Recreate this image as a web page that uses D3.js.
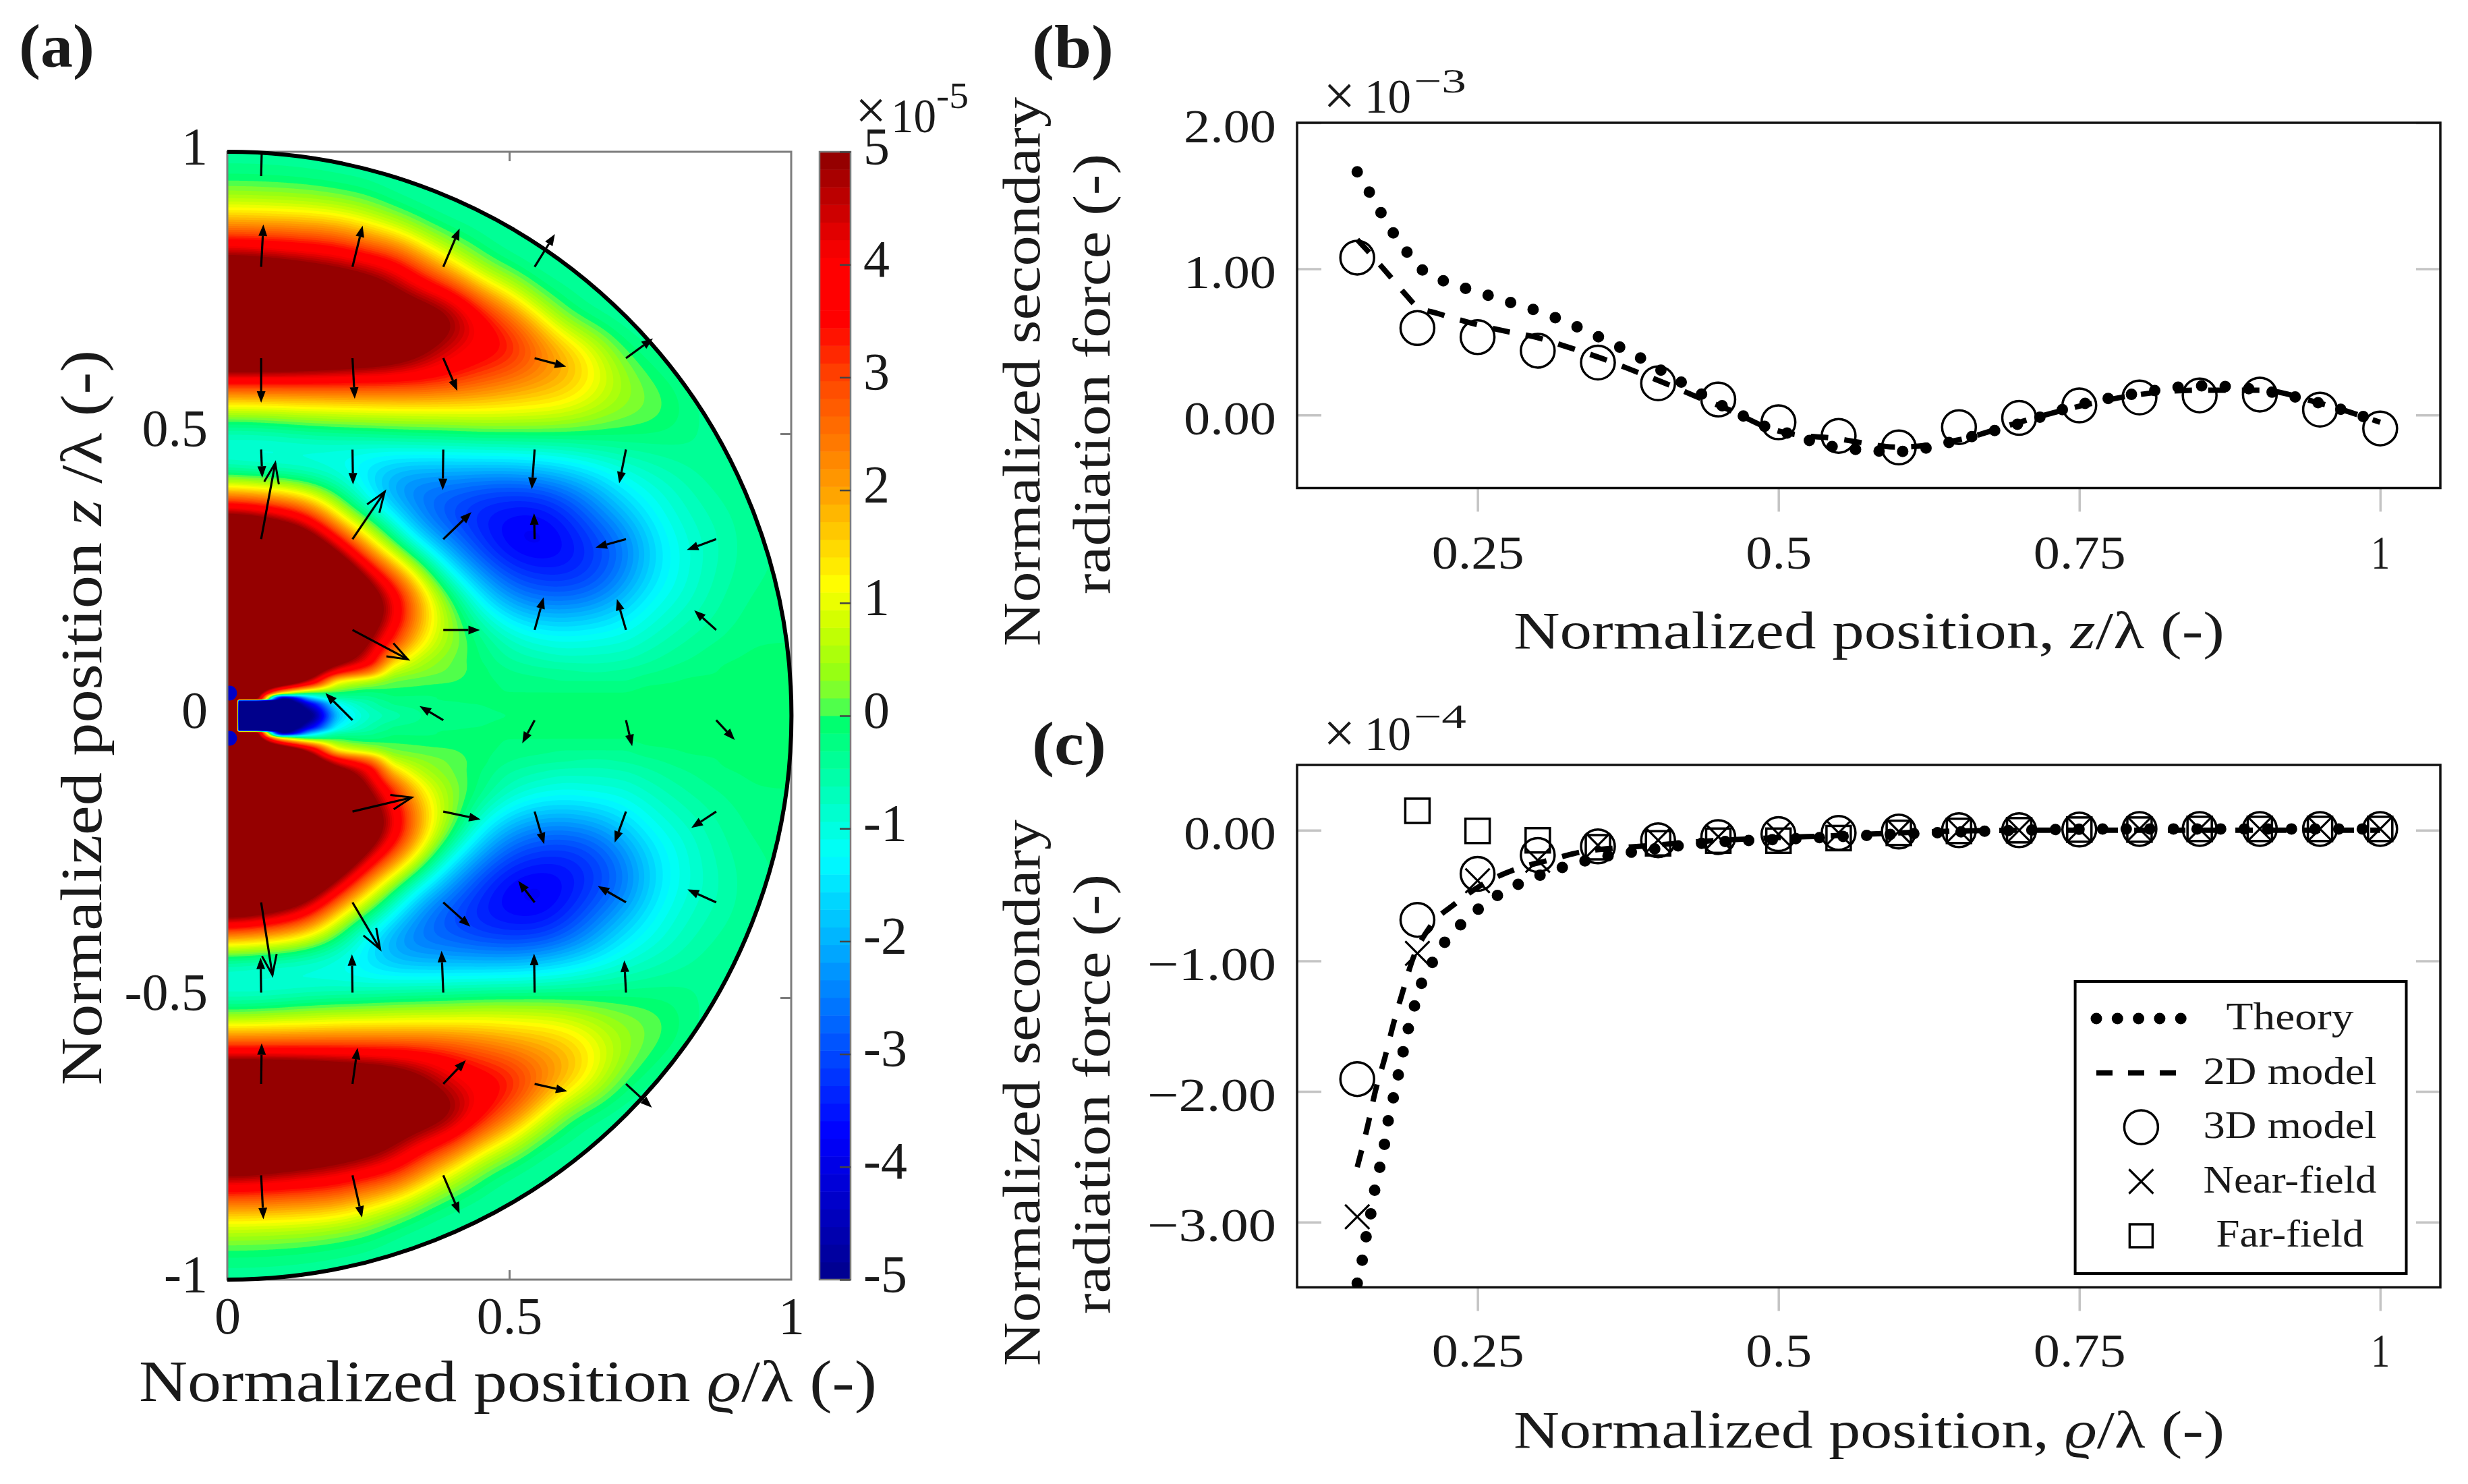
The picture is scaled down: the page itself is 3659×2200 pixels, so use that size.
<!DOCTYPE html>
<html><head><meta charset="utf-8">
<script src="https://cdn.jsdelivr.net/npm/d3@7"></script>
<style>
html,body{margin:0;padding:0;background:#fff}
svg{display:block}
text{font-family:"Liberation Serif",serif;fill:#1a1a1a}
</style></head><body>
<svg id="chart" width="3659" height="2200" xmlns="http://www.w3.org/2000/svg"></svg>
<script>
// ---------- panel (a): field, in units of 1e-5 (upper half; the field is even in z)
const rhoCols=[0,.016,.02,.05,.1,.15,.2,.25,.3,.35,.4,.45,.5,.55,.6,.65,.7,.75,.8,.85,.9,.95,1];
const zRows=[1,.95,.9,.85,.8,.75,.7,.65,.6,.55,.5,.45,.4,.35,.3,.25,.2,.15,.1,.08,.06,.04,.03,.026,.02,0];
const fieldRows=[
[-.5,-.5,-.5,-.5,-.5,-.5,-.5,-.5,-.5,-.5,-.5,-.5,-.5,-.5,-.5,-.5,-.5,-.5,-.5,-.5,-.5,-.5,-.5],
[-.15,-.15,-.15,-.15,-.2,-.25,-.35,-.4,-.5,-.5,-.5,-.5,-.5,-.5,-.5,-.5,-.5,-.5,-.5,-.5,-.5,-.5,-.5],
[1,1,1,.95,.9,.8,.6,.3,-.2,-.4,-.5,-.5,-.5,-.5,-.5,-.5,-.5,-.5,-.5,-.5,-.5,-.5,-.5],
[3.1,3.1,3.1,3.1,3,2.9,2.7,2,1.5,.4,-.1,-.35,-.5,-.5,-.5,-.5,-.5,-.5,-.5,-.5,-.5,-.5,-.5],
[5.8,5.8,5.8,5.6,5.3,5,4.7,4.3,3.9,2.6,1.3,.2,-.25,-.45,-.5,-.5,-.5,-.5,-.5,-.5,-.5,-.5,-.5],
[8,8,8,8,7.5,7,6.5,6,5,4.2,3.7,2,1.15,-.05,-.3,-.45,-.5,-.5,-.5,-.5,-.5,-.5,-.5],
[9,9,9,9,8.5,8,7.5,7,6.5,6,5.3,4,2.9,1.6,.1,-.3,-.45,-.5,-.5,-.5,-.5,-.5,-.5],
[8,8,8,8,7.8,7.5,7,6.6,6,5.1,4.2,3.8,3.6,2.7,1.9,1,-.05,-.35,-.5,-.5,-.5,-.5,-.5],
[3.9,3.9,3.9,3.9,3.9,3.9,3.9,3.9,3.9,3.8,3.5,3,2.6,2.2,1.9,1.25,.5,0,-.3,-.45,-.5,-.5,-.5],
[1.15,1.15,1.15,1.15,1.2,1.25,1.3,1.3,1.3,1.3,1.3,1.4,1.35,1.3,1.1,.7,.35,.2,-.1,-.4,-.5,-.5,-.5],
[-.9,-.9,-.9,-.85,-.7,-.55,-.45,-.35,-.25,-.2,-.15,-.1,-.1,-.1,-.1,-.1,-.1,-.15,-.2,-.35,-.5,-.5,-.5],
[-1.1,-1.15,-1.2,-1.25,-1.3,-1.3,-1.35,-1.5,-1.6,-1.6,-1.6,-1.55,-1.5,-1.4,-1.25,-1,-.8,-.6,-.45,-.35,-.3,-.3,-.3],
[1.3,1.25,1.2,1.1,.9,.3,-.4,-1.5,-2.5,-2.7,-2.8,-3,-3.1,-3,-2.6,-2.1,-1.4,-1.05,-.75,-.5,-.35,-.3,-.3],
[6,6,5.9,5.6,4.8,3.7,.9,0,-1.25,-2.6,-3.1,-3.5,-3.7,-3.8,-3.4,-2.7,-2.1,-1.35,-.9,-.65,-.45,-.3,-.3],
[8,8,8,8,7.5,6.5,4.5,1.6,0,-1.25,-2.3,-3.2,-3.8,-3.9,-3.7,-3.2,-2.7,-1.7,-1.1,-.75,-.5,-.3,-.3],
[9,9,9,9,9,8,7,4.7,2.4,.4,-1.25,-2.2,-3,-3.3,-3.4,-3.1,-2.5,-1.6,-1.1,-.7,-.45,-.3,-.3],
[9,9,9,9,9,9,8,6.3,4.4,1.6,.2,-1.25,-2.1,-2.5,-2.5,-2.3,-1.8,-1.2,-.9,-.6,-.35,-.25,-.25],
[9,9,9,9,9,9,7.5,5.5,3.7,1.4,.35,-.3,-.9,-1.25,-1.35,-1.25,-1.15,-.85,-.6,-.4,-.3,-.2,-.2],
[8.5,8.5,8.5,8.5,8.5,7,5.7,4.3,1.5,.55,.15,-.15,-.45,-.6,-.7,-.7,-.65,-.5,-.35,-.25,-.15,-.1,-.1],
[8,8,8,8,8,6,3.9,2.7,.7,.3,.1,-.1,-.3,-.4,-.45,-.5,-.45,-.35,-.25,-.2,-.1,-.1,-.1],
[8,8,8,7,6,4,1.2,.6,.15,.05,0,-.1,-.2,-.25,-.3,-.3,-.3,-.2,-.15,-.1,-.1,-.1,-.1],
[8,8,8,6,1,-.1,-.1,-.2,-.1,-.1,-.1,-.1,-.15,-.15,-.15,-.15,-.15,-.1,-.1,-.1,-.1,-.1,-.1],
[8,8,6,5,-5,-2,-.6,-.4,-.2,-.2,-.1,-.1,-.1,-.1,-.1,-.1,-.1,-.1,-.1,-.1,-.1,-.1,-.1],
[8,8,-5.5,-5.5,-5.5,-2.8,-.9,-.5,-.25,-.2,-.15,-.1,-.1,-.1,-.1,-.1,-.1,-.1,-.1,-.1,-.1,-.1,-.1],
[8,8,-6,-6,-6,-3.8,-1.2,-.6,-.3,-.25,-.2,-.15,-.1,-.1,-.1,-.1,-.1,-.1,-.1,-.1,-.1,-.1,-.1],
[8,8,-6.5,-7,-6.5,-5,-1.7,-.8,-.5,-.3,-.25,-.2,-.15,-.1,-.05,-.05,-.05,-.05,-.05,-.05,-.05,-.05,-.05]
];
const colorStops=[-5,-3.7,-1.25,0,.1,.4,.8,1.15,2,3,3.5,4.05,5];
const colorValues=["#00008b","#0000ff","#00ffff","#00ff66","#66ff44","#99ff11","#ccff00","#ffff00","#ffa000","#ff4400","#ff0000","#ff0000","#8b0000"];
const colorbarTicks=[5,4,3,2,1,0,-1,-2,-3,-4,-5];
const spotRho=[.004,.004], spotZ=[.04,-.04];
// force arrows: tail position and vector
const arrowRho=[.06, .06,.222,.383,.545, .06,.222,.383,.545,.707, .06,.222,.383,.545,.707, .06,.222,.383,.545,.707,.867, .222,.383,.545,.707,.867, .222,.383,.545,.707,.867, .222,.383,.545,.707,.867, .06,.222,.383,.545,.707,.867, .06,.222,.383,.545,.707, .06,.222,.383,.545,.707, .06,.222,.383];
const arrowZ=[.957, .796,.796,.796,.796, .634,.634,.634,.634,.634, .472,.472,.472,.472,.472, .313,.313,.313,.313,.313,.313, .152,.152,.152,.152,.152, -.008,-.008,-.008,-.008,-.008, -.17,-.17,-.17,-.17,-.17, -.331,-.331,-.331,-.331,-.331,-.331, -.491,-.491,-.491,-.491,-.491, -.653,-.653,-.653,-.653,-.653, -.815,-.815,-.815];
const arrowDRho=[.001, .004,.018,.029,.036, 0,.004,.025,.056,.048, .002,.001,-.001,-.005,-.012, .025,.057,.05,-.001,-.054,-.052, .098,.065,.016,-.016,-.039, -.048,-.042,-.022,.011,.033, .105,.066,.017,-.02,-.044, .02,.049,.048,-.029,-.05,-.051, -.001,-.001,-.003,-.001,-.003, .001,.009,.04,.058,.046, .004,.017,.029];
const arrowDZ=[.041, .075,.073,.068,.058, -.079,-.072,-.058,-.015,.035, -.05,-.062,-.072,-.07,-.06, .135,.084,.048,.046,-.015,-.019, -.052,0,.058,.055,.035, .048,.025,-.041,-.046,-.035, .025,-.014,-.058,-.055,-.029, -.129,-.083,-.043,.038,.029,.023, .062,.068,.074,.069,.057, .072,.064,.042,-.013,-.042, -.078,-.075,-.068];
const panelATicks=[-1,-.5,0,.5,1], panelAXTicks=[0,.5,1];
// ---------- panel (b)
const theoryBx=[.15,.16,.169,.179,.19,.202,.219,.237,.255,.273,.291,.309,.327,.344,.361,.379,.395,.411,.428,.444,.462,.479,.495,.514,.533,.55,.6,.62,.65,.7,.75,.8,.85,.9,.95,1];
const theoryB=[1.664,1.526,1.395,1.258,1.13,1.008,.928,.875,.829,.781,.736,.684,.624,.561,.492,.42,.342,.266,.181,.106,.025,-.037,-.102,-.136,-.197,-.222,-.25,-.23,-.17,-.06,.07,.15,.2,.17,.08,-.05];
const model2dBx=[.15,.153,.173,.191,.2,.216,.243,.271,.299,.326,.354,.379,.407,.432,.46,.492,.515,.544,.6,.65,.7,.75,.8,.85,.9,.95,1];
const model2dB=[1.2,1.174,.99,.817,.74,.697,.633,.577,.531,.462,.385,.305,.213,.125,.032,-.09,-.135,-.157,-.22,-.17,-.05,.06,.14,.17,.17,.08,-.05];
const positions=[.15,.2,.25,.3,.35,.4,.45,.5,.55,.6,.65,.7,.75,.8,.85,.9,.95,1];
const model3dB=[1.077,.595,.533,.44,.359,.217,.106,-.05,-.143,-.222,-.083,-.02,.065,.12,.134,.14,.037,-.092];
// ---------- panel (c)
const theoryCx=[.15,.154,.157,.161,.164,.168,.172,.175,.179,.183,.187,.191,.196,.201,.209,.218,.23,.244,.259,.275,.292,.309,.328,.347,.365,.384,.45,.5,.6,.7,.8,1];
const theoryC=[-3.468,-3.3,-3.13,-2.95,-2.78,-2.61,-2.44,-2.26,-2.09,-1.92,-1.745,-1.572,-1.4,-1.23,-1.074,-.919,-.78,-.656,-.545,-.454,-.38,-.32,-.263,-.217,-.186,-.16,-.09,-.07,-.03,0,.01,.01];
const model2dCx=[.15,.159,.165,.173,.18,.188,.196,.211,.231,.255,.281,.309,.337,.367,.39,.423,.478,.55,.6,.7,1];
const model2dC=[-2.58,-2.25,-2,-1.74,-1.485,-1.23,-.99,-.733,-.565,-.41,-.3,-.23,-.165,-.135,-.12,-.094,-.065,-.04,-.02,0,0];
const model3dC=[-1.905,-.686,-.334,-.19,-.124,-.077,-.052,-.03,-.02,-.01,0,0,.005,.01,.01,.01,.01,.01];
const nearC=[-2.96,-.943,-.386,-.23,-.115,-.077,-.05,-.03,-.02,-.01,0,0,.005,.01,.01,.01,.01,.01];
const farC=[null,.149,-.005,-.077,-.13,-.1,-.08,-.08,-.06,-.02,-.005,0,.005,.005,.01,.01,.01,.01];
const legendNames=["Theory","2D model","3D model","Near-field","Far-field"];

// ---------- helpers
const svg=d3.select("#chart");
const defs=svg.append("defs");
const FONT='"Liberation Serif",serif';
function pchip(xs,ys){
  const n=xs.length,h=[],d=[],m=new Array(n);
  for(let i=0;i<n-1;i++){h[i]=xs[i+1]-xs[i];d[i]=(ys[i+1]-ys[i])/h[i];}
  m[0]=d[0];m[n-1]=d[n-2];
  for(let i=1;i<n-1;i++){
    if(d[i-1]*d[i]<=0)m[i]=0;
    else{const a=2*h[i]+h[i-1],b=h[i]+2*h[i-1];m[i]=(a+b)/(a/d[i-1]+b/d[i]);}
  }
  return x=>{
    let i=d3.bisectRight(xs,x)-1;i=Math.max(0,Math.min(n-2,i));
    const t=(x-xs[i])/h[i],t2=t*t,t3=t2*t;
    return (2*t3-3*t2+1)*ys[i]+(t3-2*t2+t)*h[i]*m[i]+(-2*t3+3*t2)*ys[i+1]+(t3-t2)*h[i]*m[i+1];
  };
}
function txt(x,y,s,size,opt={}){
  const t=svg.append("text").attr("x",x).attr("y",y).attr("font-size",size);
  if(opt.anchor)t.attr("text-anchor",opt.anchor);
  if(opt.weight)t.attr("font-weight",opt.weight);
  if(opt.rotate)t.attr("transform",`rotate(-90 ${x} ${y})`);
  if(opt.len)t.attr("textLength",opt.len).attr("lengthAdjust","spacingAndGlyphs");
  (Array.isArray(s)?s:[[s,false]]).forEach(([c,it])=>{t.append("tspan").attr("font-style",it?"italic":"normal").text(c);});
  return t;
}

// ---------- panel (a)
const xA=d3.scaleLinear([0,1],[337,1173]);
const yA=d3.scaleLinear([-1,1],[1897,225]);
const color=d3.scaleLinear(colorStops,colorValues).clamp(true);
const NB=64;
const levels=d3.range(NB).map(i=>-5+i*10/NB);

const zAsc=zRows.slice().reverse();
const zKnots=zRows.map(z=>-z).concat(zAsc.slice(1));
const rowsKnots=fieldRows.concat(fieldRows.slice(0,-1).reverse());
const nx=420,ny=840;
const fineZ=d3.range(ny).map(j=>1-2*(j+.5)/ny);
const fineR=d3.range(nx).map(i=>(i+.5)/nx);
const colFine=rhoCols.map((_,c)=>{const f=pchip(zKnots,rowsKnots.map(r=>r[c]));return fineZ.map(f);});
const raw=new Float64Array(nx*ny);
for(let j=0;j<ny;j++){
  const f=pchip(rhoCols,colFine.map(c=>c[j]));
  for(let i=0;i<nx;i++)raw[j*nx+i]=f(fineR[i]);
}
// soften the grid of readings away from the narrow wedge on the axis
const soft=Float64Array.from(raw);
d3.blur2({data:soft,width:nx,height:ny},11);
const grid=new Float64Array(nx*ny);
const wedgeMix=d3.scaleLinear([.07,.15],[0,1]).clamp(true);
for(let j=0;j<ny;j++){
  const w=wedgeMix(Math.abs(fineZ[j]));
  for(let i=0;i<nx;i++)grid[j*nx+i]=w*soft[j*nx+i]+(1-w)*raw[j*nx+i];
}
const cont=d3.contours().size([nx,ny]).thresholds(levels).smooth(true)(grid);
const proj=d3.geoPath(d3.geoTransform({point(x,y){this.stream.point(xA(x/nx),yA(1-2*y/ny));}}));

const cx=xA(0),cy=yA(0),R=xA(1)-xA(0);
const half=d3.path();half.moveTo(cx,yA(1));half.arc(cx,cy,R,-Math.PI/2,Math.PI/2);half.closePath();
defs.append("clipPath").attr("id","disc").append("path").attr("d",half.toString());
const gField=svg.append("g").attr("clip-path","url(#disc)");
gField.append("rect").attr("x",xA(0)).attr("y",yA(1)).attr("width",R).attr("height",2*R).attr("fill",color(-5));
gField.selectAll("path.c").data(cont).join("path").attr("class","c")
  .attr("d",proj).attr("fill",d=>color(d.value+5/NB));
gField.selectAll("circle.s").data(spotRho).join("circle").attr("class","s")
  .attr("cx",d=>xA(d)).attr("cy",(d,i)=>yA(spotZ[i])).attr("r",11).attr("fill","#0000c8");

// frame and axes of (a)
const frameCol="#7d7d7d";
svg.append("rect").attr("x",xA(0)).attr("y",yA(1)).attr("width",R).attr("height",2*R)
  .attr("fill","none").attr("stroke",frameCol).attr("stroke-width",3);
function clean(g,col,w){g.select(".domain").remove();g.selectAll("line").attr("stroke",col).attr("stroke-width",w);}
const gaT=svg.append("g").attr("transform",`translate(0,${yA(1)})`).call(d3.axisTop(xA).tickValues([.5]).tickSize(-14).tickFormat(""));clean(gaT,frameCol,3);
const gaB=svg.append("g").attr("transform",`translate(0,${yA(-1)})`).call(d3.axisBottom(xA).tickValues(panelAXTicks).tickSize(-14).tickFormat(d3.format("")));
clean(gaB,frameCol,3);gaB.selectAll("line").filter(d=>d!==.5).remove();
gaB.selectAll("text").attr("y",80).attr("dy",null).attr("font-size",78).attr("font-family",FONT).attr("fill","#1a1a1a");
const gaR=svg.append("g").attr("transform",`translate(${xA(1)},0)`).call(d3.axisRight(yA).tickValues([-.5,.5]).tickSize(-16).tickFormat(""));clean(gaR,frameCol,3);
const gaL=svg.append("g").attr("transform",`translate(${xA(0)},0)`).call(d3.axisLeft(yA).tickValues(panelATicks).tickSize(0).tickFormat(d=>String(d)));
clean(gaL,frameCol,3);
gaL.selectAll("text").attr("x",-29).attr("y",17).attr("dy",null).attr("font-size",78).attr("font-family",FONT).attr("fill","#1a1a1a");

// outer boundary
const arcP=d3.path();arcP.moveTo(cx,yA(1));arcP.arc(cx,cy,R,-Math.PI/2,Math.PI/2);
svg.append("path").attr("d",arcP.toString()).attr("fill","none").attr("stroke","#000").attr("stroke-width",6);

// arrows
const gArrow=svg.append("g");
arrowRho.forEach((r,i)=>{
  const x1=xA(r),y1=yA(arrowZ[i]),x2=xA(r+arrowDRho[i]),y2=yA(arrowZ[i]+arrowDZ[i]);
  const a=Math.atan2(y2-y1,x2-x1),mag=Math.hypot(arrowDRho[i],arrowDZ[i]);
  const tipR=Math.hypot(r+arrowDRho[i],arrowZ[i]+arrowDZ[i]);
  const p=d3.path();p.moveTo(x1,y1);
  if(mag<.045&&tipR>.99){
    // head is lost in the boundary line
    p.lineTo(x2,y2);
    gArrow.append("path").attr("d",p.toString()).attr("stroke","#000").attr("stroke-width",3.2).attr("fill","none");
  }else if(mag>.09){
    p.lineTo(x2,y2);
    gArrow.append("path").attr("d",p.toString()).attr("stroke","#000").attr("stroke-width",3.2).attr("fill","none");
    const q=d3.path(),L=30,W=11;
    q.moveTo(x2-L*Math.cos(a)-W*Math.sin(a),y2-L*Math.sin(a)+W*Math.cos(a));q.lineTo(x2,y2);
    q.lineTo(x2-L*Math.cos(a)+W*Math.sin(a),y2-L*Math.sin(a)-W*Math.cos(a));
    gArrow.append("path").attr("d",q.toString()).attr("stroke","#000").attr("stroke-width",3).attr("fill","none");
  }else{
    const L=17,W=6.5,bx=x2-L*Math.cos(a),by=y2-L*Math.sin(a);
    p.lineTo(bx,by);
    gArrow.append("path").attr("d",p.toString()).attr("stroke","#000").attr("stroke-width",3.2).attr("fill","none");
    const q=d3.path();
    q.moveTo(x2,y2);q.lineTo(bx-W*Math.sin(a),by+W*Math.cos(a));q.lineTo(bx+W*Math.sin(a),by-W*Math.cos(a));q.closePath();
    gArrow.append("path").attr("d",q.toString()).attr("fill","#000");
  }
});

// colorbar
const cb=d3.scaleLinear([-5,5],[1897,225]);
const cbX=1215,cbW=46;
svg.selectAll("rect.cb").data(levels).join("rect").attr("class","cb")
  .attr("x",cbX).attr("width",cbW).attr("y",d=>cb(d+10/NB)).attr("height",d=>cb(d)-cb(d+10/NB)+.5)
  .attr("fill",d=>color(d+5/NB));
svg.append("rect").attr("x",cbX).attr("y",225).attr("width",cbW).attr("height",1672).attr("fill","none").attr("stroke",frameCol).attr("stroke-width",2.5);
const gcb=svg.append("g").attr("transform",`translate(${cbX+cbW},0)`).call(d3.axisRight(cb).tickValues(colorbarTicks).tickSize(-16).tickFormat(d=>String(d)));
clean(gcb,"#444",2.5);
gcb.selectAll("text").attr("x",19).attr("y",17).attr("dy",null).attr("font-size",78).attr("font-family",FONT).attr("fill","#1a1a1a");
txt(1268,191,"×",82);
txt(1321,196,"10",72,{len:67});
txt(1388,160,"-5",54,{len:48});

txt(206,2077,[["Normalized position ",false],["ϱ",true],["/λ (-)",false]],86,{len:1094});
txt(150,1609,[["Normalized position ",false],["z",true],[" /λ (-)",false]],86,{len:1090,rotate:true});
txt(28,99,"(a)",92,{weight:"bold",len:112});
txt(1530,100,"(b)",92,{weight:"bold",len:121});
txt(1530,1133,"(c)",92,{weight:"bold",len:110});

// ---------- panels (b), (c)
const xL=d3.scaleLinear([.1,1.05],[1923,3618]);
const yB=d3.scaleLinear([-.5,2],[723.5,182]);
const yC=d3.scaleLinear([-3.5,.5],[1908.5,1134]);
defs.append("clipPath").attr("id","boxB").append("rect").attr("x",1923).attr("y",182).attr("width",1695).attr("height",541.5);
defs.append("clipPath").attr("id","boxC").append("rect").attr("x",1923).attr("y",1134).attr("width",1695).attr("height",774.5);
function tickLen(s){let w=0;for(const c of s)w+=c==="."?20:c==="\u2212"?54:39;return s==="1"?28:w;}
function lineOf(sel,xs,ys,x,y,dash,w,cap){
  const g=d3.line().x((d,i)=>x(xs[i])).y((d,i)=>y(ys[i])).curve(d3.curveMonotoneX);
  sel.append("path").attr("d",g(xs)).attr("fill","none").attr("stroke","#000").attr("stroke-width",w)
    .attr("stroke-dasharray",dash).attr("stroke-linecap",cap);
}
function frame(y,top,bot,yTicks,labelClip){
  const gray="#c4c4c4";
  const gL=svg.append("g").attr("transform",`translate(${xL.range()[0]},0)`).call(d3.axisLeft(y).tickValues(yTicks).tickSize(-36).tickFormat(d3.format(".2f")));
  clean(gL,gray,3.5);
  gL.selectAll("text").attr("x",-31).attr("y",28).attr("dy",null).attr("font-size",70).attr("font-family",FONT).attr("fill","#1a1a1a")
    .attr("lengthAdjust","spacingAndGlyphs").each(function(){d3.select(this).attr("textLength",tickLen(this.textContent));});
  const gR=svg.append("g").attr("transform",`translate(${xL.range()[1]},0)`).call(d3.axisRight(y).tickValues(yTicks).tickSize(-36).tickFormat(""));
  clean(gR,gray,3.5);
  const gB=svg.append("g").attr("transform",`translate(0,${bot})`).call(d3.axisBottom(xL).tickValues([.25,.5,.75,1]).tickSize(35).tickFormat(d=>String(d)));
  clean(gB,gray,3.5);
  gB.selectAll("text").attr("y",labelClip).attr("dy",null).attr("font-size",70).attr("font-family",FONT).attr("fill","#1a1a1a")
    .attr("lengthAdjust","spacingAndGlyphs").each(function(){d3.select(this).attr("textLength",tickLen(this.textContent));});
  svg.append("rect").attr("x",1923).attr("y",top).attr("width",1695).attr("height",bot-top).attr("fill","none").attr("stroke","#111").attr("stroke-width",3.5);
}
function markers(g,xs,ys,y,kind){
  xs.forEach((p,i)=>{
    if(ys[i]===null)return;
    const X=xL(p),Y=y(ys[i]);
    if(kind==="o")g.append("circle").attr("cx",X).attr("cy",Y).attr("r",25).attr("fill","none").attr("stroke","#000").attr("stroke-width",3.5);
    if(kind==="x")g.append("path").attr("d",`M${X-18},${Y-18}L${X+18},${Y+18}M${X-18},${Y+18}L${X+18},${Y-18}`).attr("fill","none").attr("stroke","#000").attr("stroke-width",3.2);
    if(kind==="s")g.append("rect").attr("x",X-18).attr("y",Y-18).attr("width",36).attr("height",36).attr("fill","none").attr("stroke","#000").attr("stroke-width",3.5);
  });
}
// (b)
frame(yB,182,723.5,[0,1,2],119);
const gbd=svg.append("g").attr("clip-path","url(#boxB)");
lineOf(gbd,theoryBx,theoryB,xL,yB,"0 35",17,"round");
lineOf(gbd,model2dBx,model2dB,xL,yB,"26 24",8,"butt");
markers(gbd,positions,model3dB,yB,"o");
// (c)
frame(yC,1134,1908.5,[0,-1,-2,-3],117);
const gcd=svg.append("g").attr("clip-path","url(#boxC)");
lineOf(gcd,theoryCx,theoryC,xL,yC,"0 35",17,"round");
lineOf(gcd,model2dCx,model2dC,xL,yC,"26 24",8,"butt");
markers(gcd,positions,model3dC,yC,"o");
markers(gcd,positions,nearC,yC,"x");
markers(gcd,positions,farC,yC,"s");

// multipliers
txt(1962,170,"×",84);
txt(2023,167,"10",72,{len:69});
txt(2096,137,"\u22123",50,{len:78});
txt(1962,1115,"×",84);
txt(2023,1112,"10",72,{len:69});
txt(2096,1079,"\u22124",50,{len:78});

// axis titles
txt(2244,961,[["Normalized position, ",false],["z",true],["/λ (-)",false]],78,{len:1054});
txt(2244,2146,[["Normalized position, ",false],["ϱ",true],["/λ (-)",false]],78,{len:1054});
txt(1541,958,"Normalized secondary",78,{len:814,rotate:true});
txt(1645,881,"radiation force (-)",78,{len:653,rotate:true});
txt(1541,2025,"Normalized secondary",78,{len:810,rotate:true});
txt(1645,1948,"radiation force (-)",78,{len:652,rotate:true});

// legend
const lgX=d3.scaleLinear([0,1],[3076.6,3567.5]);
const lgY=d3.scalePoint(legendNames,[1510,1832]);
svg.append("rect").attr("x",lgX(0)).attr("y",1455).attr("width",lgX(1)-lgX(0)).attr("height",433).attr("fill","#fff").attr("stroke","#000").attr("stroke-width",4);
const lgLabelW={"Theory":189,"2D model":257,"3D model":257,"Near-field":257,"Far-field":219};
legendNames.forEach(n=>{
  txt(3395,lgY(n)+16,n,58,{anchor:"middle",len:lgLabelW[n]});
});
const lgS=3174.4;
svg.append("line").attr("x1",3108).attr("x2",3234).attr("y1",lgY("Theory")).attr("y2",lgY("Theory")).attr("stroke","#000").attr("stroke-width",17).attr("stroke-linecap","round").attr("stroke-dasharray","0 31.3");
svg.append("line").attr("x1",3108).attr("x2",3226).attr("y1",lgY("2D model")).attr("y2",lgY("2D model")).attr("stroke","#000").attr("stroke-width",8).attr("stroke-dasharray","24 23");
svg.append("circle").attr("cx",lgS).attr("cy",lgY("3D model")).attr("r",25).attr("fill","none").attr("stroke","#000").attr("stroke-width",3.5);
{const Y=lgY("Near-field");svg.append("path").attr("d",`M${lgS-18},${Y-18}L${lgS+18},${Y+18}M${lgS-18},${Y+18}L${lgS+18},${Y-18}`).attr("stroke","#000").attr("stroke-width",3.2).attr("fill","none");}
{const Y=lgY("Far-field");svg.append("rect").attr("x",lgS-17).attr("y",Y-17).attr("width",34).attr("height",34).attr("fill","none").attr("stroke","#000").attr("stroke-width",3.5);}
</script></body></html>
